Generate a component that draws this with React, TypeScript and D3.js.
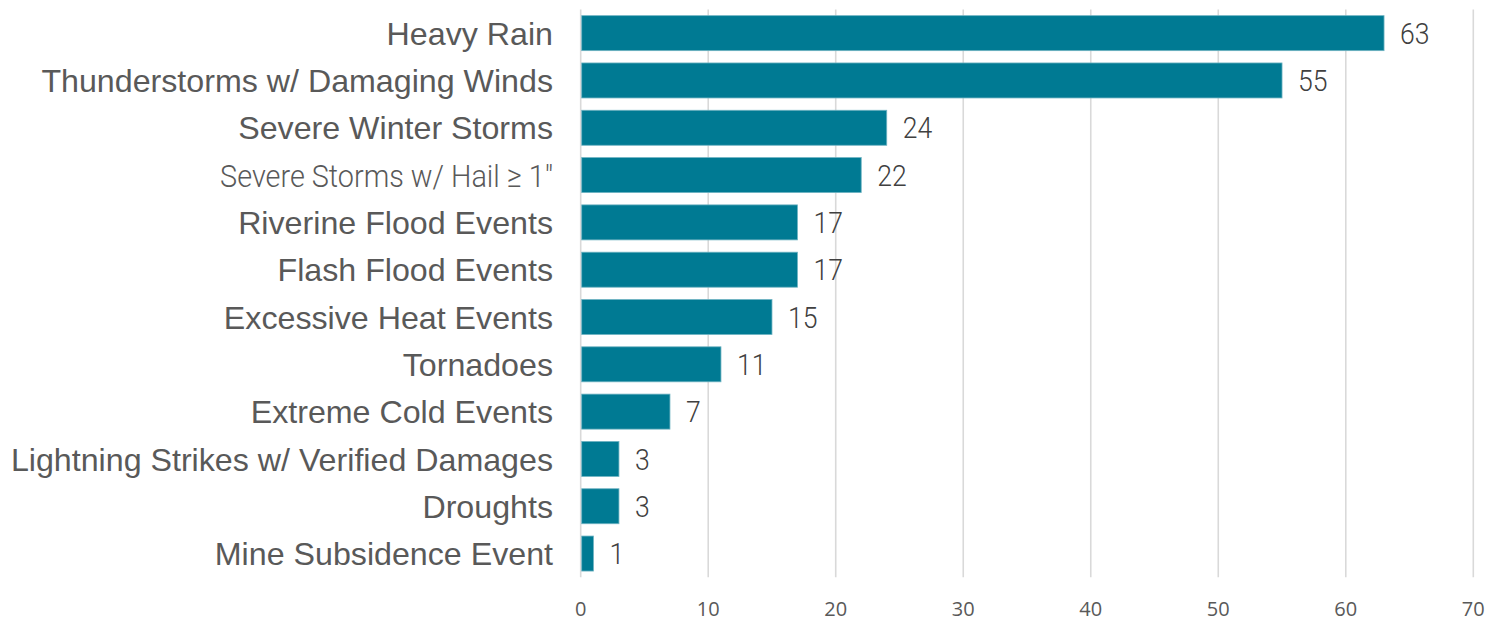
import { useEffect, useRef } from 'react'
import * as d3 from 'd3'

const CATEGORIES = [
  'Heavy Rain',
  'Thunderstorms w/ Damaging Winds',
  'Severe Winter Storms',
  'Severe Storms w/ Hail \u2265 1"',
  'Riverine Flood Events',
  'Flash Flood Events',
  'Excessive Heat Events',
  'Tornadoes',
  'Extreme Cold Events',
  'Lightning Strikes w/ Verified Damages',
  'Droughts',
  'Mine Subsidence Event',
]
const VALUES = [63, 55, 24, 22, 17, 17, 15, 11, 7, 3, 3, 1]
const TICKS = [0, 10, 20, 30, 40, 50, 60, 70]
// this one label is set in a condensed face in the original
const CONDENSED = 'Severe Storms w/ Hail \u2265 1"'

export default function App() {
  const ref = useRef<SVGSVGElement>(null)

  useEffect(() => {
    document.body.style.margin = '0'
    const svg = d3.select(ref.current)
    svg.selectAll('*').remove()

    const width = 1492
    const height = 620
    const left = 580.7
    const right = 1473.3

    const x = d3.scaleLinear().domain([0, 70]).range([left, right])
    const y = d3.scaleBand().domain(CATEGORIES).range([9.5, 577.2]).paddingInner(0.26).paddingOuter(0.13)

    svg.attr('viewBox', `0 0 ${width} ${height}`).attr('width', width).attr('height', height)

    // grid
    svg.append('g')
      .selectAll('line')
      .data(TICKS)
      .join('line')
      .attr('x1', d => x(d))
      .attr('x2', d => x(d))
      .attr('y1', 9.5)
      .attr('y2', 577.2)
      .attr('stroke', '#d9d9d9')
      .attr('stroke-width', 1.6)

    // tick labels
    svg.append('g')
      .selectAll('text')
      .data(TICKS)
      .join('text')
      .attr('x', d => x(d))
      .attr('y', 615.5)
      .attr('text-anchor', 'middle')
      .attr('font-family', '"Open Sans", sans-serif')
      .attr('font-size', 20)
      .attr('fill', '#595959')
      .text(d => d)

    const rows = CATEGORIES.map((c, i) => ({ c, v: VALUES[i] }))

    // bars
    svg.append('g')
      .selectAll('rect')
      .data(rows)
      .join('rect')
      .attr('x', x(0) + 1)
      .attr('y', d => y(d.c)!)
      .attr('width', d => x(d.v) - x(0) - 1)
      .attr('height', y.bandwidth())
      .attr('fill', '#007a93')
      .attr('stroke', '#6fb3c2')
      .attr('stroke-width', 0.8)

    // category labels
    const cat = svg.append('g')
      .selectAll('g')
      .data(rows)
      .join('g')
      .attr('transform', d => `translate(553,${y(d.c)! + y.bandwidth() / 2})`)

    cat.filter(d => d.c !== CONDENSED)
      .append('text')
      .attr('text-anchor', 'end')
      .attr('dy', '0.36em')
      .attr('font-family', '"Liberation Sans", Arial, sans-serif')
      .attr('font-size', 32.2)
      .attr('fill', '#595959')
      .text(d => d.c)

    cat.filter(d => d.c === CONDENSED)
      .append('text')
      .attr('text-anchor', 'end')
      .attr('dy', '0.36em')
      .attr('font-family', 'Roboto, sans-serif')
      .attr('font-weight', 300)
      .attr('font-size', 32)
      .attr('fill', '#595959')
      .attr('transform', 'scale(0.9,1)')
      .text(d => d.c)

    // value labels
    svg.append('g')
      .selectAll('g')
      .data(rows)
      .join('g')
      .attr('transform', d => `translate(${x(d.v) + 16},${y(d.c)! + y.bandwidth() / 2}) scale(0.9,1)`)
      .append('text')
      .attr('dy', '0.36em')
      .attr('font-family', 'Roboto, sans-serif')
      .attr('font-weight', 300)
      .attr('font-size', 29.5)
      .attr('fill', '#404040')
      .text(d => d.v)
  }, [])

  return <svg ref={ref} style={{ display: 'block' }} />
}
